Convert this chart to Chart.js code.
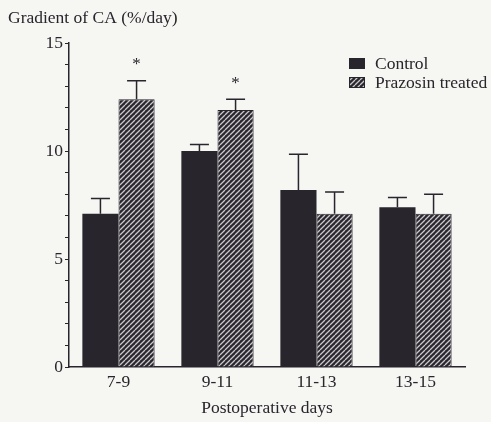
<!DOCTYPE html>
<html>
<head>
<meta charset="utf-8">
<script src="https://cdn.jsdelivr.net/npm/chart.js@4.4.1/dist/chart.umd.min.js"></script>
<style>
  html, body { margin: 0; padding: 0; background: #f6f6f3; }
  #wrap { width: 491px; height: 422px; }
</style>
</head>
<body>
<div id="wrap"><canvas id="chart" width="491" height="422"></canvas></div>
<script>
const categories = ["7-9", "9-11", "11-13", "13-15"];
const controlValues = [7.1, 10.0, 8.2, 7.4];
const controlErrors = [0.7, 0.3, 1.65, 0.45];
const prazosinValues = [12.4, 11.9, 7.1, 7.1];
const prazosinErrors = [0.85, 0.5, 1.0, 0.9];
const prazosinSignificant = [true, true, false, false];
const yTicks = [0, 5, 10, 15];

const ink = "#29252c";
const serif = "'Liberation Serif', 'DejaVu Serif', serif";
const fontSize = 17.5;

function hatchPattern() {
  const size = 5;
  const c = document.createElement("canvas");
  c.width = size;
  c.height = size;
  const g = c.getContext("2d");
  g.fillStyle = "#2b2730";
  g.fillRect(0, 0, size, size);
  g.strokeStyle = "#c9c9c9";
  g.lineWidth = 1.3;
  g.beginPath();
  for (let k = -1; k <= 1; k++) {
    g.moveTo(k * size, size);
    g.lineTo(k * size + size, 0);
  }
  g.stroke();
  return g.createPattern(c, "repeat");
}

const errorBars = {
  id: "errorBars",
  afterDatasetsDraw(chart) {
    const { ctx, scales } = chart;
    ctx.save();
    ctx.strokeStyle = ink;
    ctx.lineWidth = 1.5;
    chart.data.datasets.forEach((ds, i) => {
      const meta = chart.getDatasetMeta(i);
      meta.data.forEach((bar, j) => {
        const top = scales.y.getPixelForValue(ds.data[j] + ds.errors[j]);
        ctx.beginPath();
        ctx.moveTo(bar.x, bar.y);
        ctx.lineTo(bar.x, top);
        ctx.moveTo(bar.x - 9.5, top);
        ctx.lineTo(bar.x + 9.5, top);
        ctx.stroke();
        if (ds.significant && ds.significant[j]) {
          ctx.fillStyle = ink;
          ctx.font = "17px " + serif;
          ctx.textAlign = "center";
          ctx.textBaseline = "middle";
          ctx.fillText("*", bar.x, top - 16);
        }
      });
    });
    ctx.restore();
  }
};

// title sits left of the y axis, legend inside the plot, top right
const annotations = {
  id: "annotations",
  afterDraw(chart) {
    const { ctx, chartArea } = chart;
    ctx.save();
    ctx.font = fontSize + "px " + serif;
    ctx.textBaseline = "middle";
    ctx.textAlign = "left";
    ctx.fillStyle = ink;
    ctx.fillText("Gradient of CA (%/day)", 8, 18);

    const x = chartArea.right - 116;
    let y = 58;
    chart.data.datasets.forEach((ds) => {
      ctx.fillStyle = ds.backgroundColor;
      ctx.fillRect(x, y, 16, 11);
      ctx.strokeStyle = ink;
      ctx.lineWidth = 1;
      ctx.strokeRect(x + 0.5, y + 0.5, 15, 10);
      ctx.fillStyle = ink;
      ctx.fillText(ds.label, x + 26, y + 6);
      y += 19;
    });
    ctx.restore();
  }
};

new Chart(document.getElementById("chart"), {
  type: "bar",
  data: {
    labels: categories,
    datasets: [
      {
        label: "Control",
        data: controlValues,
        errors: controlErrors,
        backgroundColor: ink,
        borderColor: ink,
        borderWidth: 0
      },
      {
        label: "Prazosin treated",
        data: prazosinValues,
        errors: prazosinErrors,
        significant: prazosinSignificant,
        backgroundColor: hatchPattern(),
        borderColor: ink,
        borderWidth: 1
      }
    ]
  },
  options: {
    responsive: false,
    animation: false,
    devicePixelRatio: 1,
    layout: { padding: { left: 0, right: 26, top: 43, bottom: 3 } },
    categoryPercentage: 0.73,
    barPercentage: 1,
    plugins: {
      legend: { display: false },
      tooltip: { enabled: false },
      title: { display: false }
    },
    scales: {
      x: {
        grid: { display: false, drawTicks: false },
        border: { display: true, color: ink, width: 1.5 },
        ticks: { color: ink, padding: 5, font: { family: serif, size: fontSize } },
        title: {
          display: true,
          text: "Postoperative days",
          color: ink,
          font: { family: serif, size: fontSize },
          padding: { top: 4, bottom: 0 }
        },
        afterFit(scale) { scale.height = 52; }
      },
      y: {
        min: 0,
        max: 15,
        afterBuildTicks(scale) {
          scale.ticks = Array.from({ length: 16 }, (_, v) => ({ value: v }));
        },
        grid: { drawOnChartArea: false, tickLength: 4, color: ink, lineWidth: 1 },
        border: { display: true, color: ink, width: 1.5 },
        ticks: {
          color: ink,
          padding: 2,
          font: { family: serif, size: fontSize },
          autoSkip: false,
          callback: (v) => (yTicks.includes(v) ? String(v) : "")
        },
        afterFit(scale) { scale.width = 69; }
      }
    }
  },
  plugins: [errorBars, annotations]
});
</script>
</body>
</html>
